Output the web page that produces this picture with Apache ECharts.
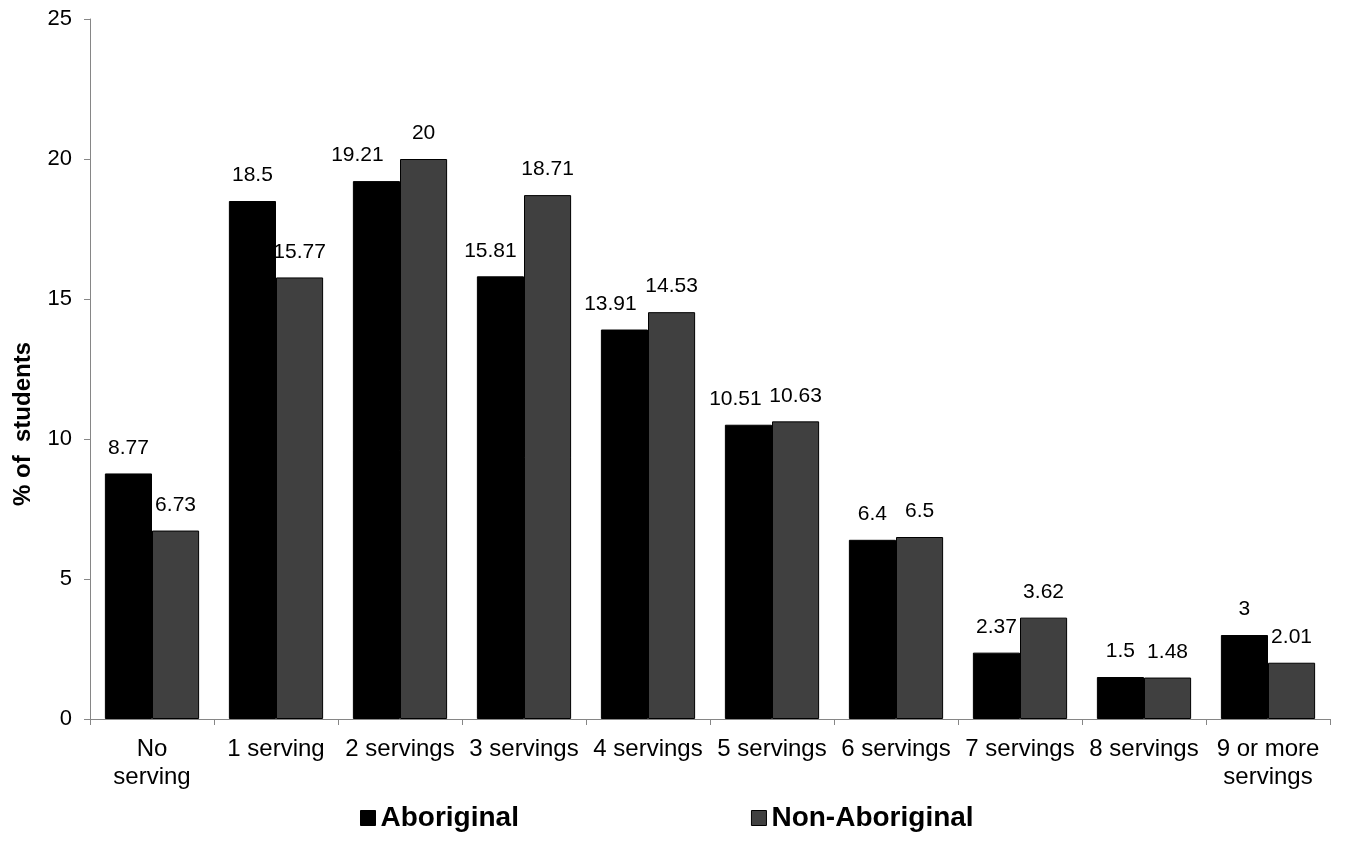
<!DOCTYPE html>
<html>
<head>
<meta charset="utf-8">
<script src="https://cdn.jsdelivr.net/npm/echarts@6/dist/echarts.min.js"></script>
<style>
  html, body { margin: 0; padding: 0; background: #fff; }
  #chart { width: 1345px; height: 843px; }
</style>
</head>
<body>
<div id="chart"></div>
<script>
// Servings per day, share of students by group
const categories = ['No\nserving', '1 serving', '2 servings', '3 servings', '4 servings',
  '5 servings', '6 servings', '7 servings', '8 servings', '9 or more\nservings'];
const aboriginal = [8.77, 18.5, 19.21, 15.81, 13.91, 10.51, 6.4, 2.37, 1.5, 3];
const nonAboriginal = [6.73, 15.77, 20, 18.71, 14.53, 10.63, 6.5, 3.62, 1.48, 2.01];
const yTicks = [0, 5, 10, 15, 20, 25];

// horizontal nudges (px) for value labels that would otherwise crowd the neighbour bar
const aboriginalLabelNudge = [0, 0, -19, -10, -14, -13, 0, 0, 0, 0];
const nonAboriginalLabelNudge = [0, 0, 0, 0, 0, 0, 0, 0, 0, 0];

const FONT = 'Arial, "Liberation Sans", Helvetica, sans-serif';
const axisColor = '#868686';

const chart = echarts.init(document.getElementById('chart'), null, { renderer: 'canvas' });

function barSeries(name, values, nudges, color) {
  return {
    name: name,
    type: 'bar',
    data: values.map((v, i) => ({ value: v, label: { offset: [nudges[i], 0] } })),
    barGap: '0%',
    barCategoryGap: '24%',
    itemStyle: { color: color, borderColor: '#000', borderWidth: 1 },
    label: {
      show: true,
      position: 'top',
      distance: 15,
      color: '#000',
      fontFamily: FONT,
      fontSize: 21
    }
  };
}

chart.setOption({
  animation: false,
  backgroundColor: '#fff',
  grid: { left: 90, right: 15, top: 19, bottom: 124 },
  legend: {
    bottom: 6,
    left: 355,
    itemWidth: 15,
    itemHeight: 15,
    itemGap: 232,
    icon: 'rect',
    textStyle: { fontFamily: FONT, fontSize: 28, fontWeight: 'bold', color: '#000' },
    data: [
      { name: 'Aboriginal', itemStyle: { borderColor: '#000', borderWidth: 1 } },
      { name: 'Non-Aboriginal', itemStyle: { borderColor: '#000', borderWidth: 1 } }
    ]
  },
  xAxis: {
    type: 'category',
    data: categories,
    axisLine: { lineStyle: { color: axisColor, width: 1 } },
    axisTick: { show: true, length: 6, alignWithLabel: false, lineStyle: { color: axisColor } },
    axisLabel: {
      interval: 0,
      margin: 16,
      color: '#000',
      fontFamily: FONT,
      fontSize: 24,
      lineHeight: 28
    }
  },
  yAxis: {
    type: 'value',
    min: yTicks[0],
    max: yTicks[yTicks.length - 1],
    interval: yTicks[1] - yTicks[0],
    name: '% of  students',
    nameLocation: 'middle',
    nameGap: 55,
    nameRotate: 90,
    nameTextStyle: {
      fontFamily: FONT, fontSize: 24, fontWeight: 'bold', color: '#000',
      padding: [0, 110, 0, 0]
    },
    splitLine: { show: false },
    axisLine: { show: true, lineStyle: { color: axisColor, width: 1 } },
    axisTick: { show: true, length: 6, lineStyle: { color: axisColor } },
    axisLabel: { margin: 18, color: '#000', fontFamily: FONT, fontSize: 22 }
  },
  series: [
    barSeries('Aboriginal', aboriginal, aboriginalLabelNudge, '#000000'),
    barSeries('Non-Aboriginal', nonAboriginal, nonAboriginalLabelNudge, '#404040')
  ]
});
</script>
</body>
</html>
